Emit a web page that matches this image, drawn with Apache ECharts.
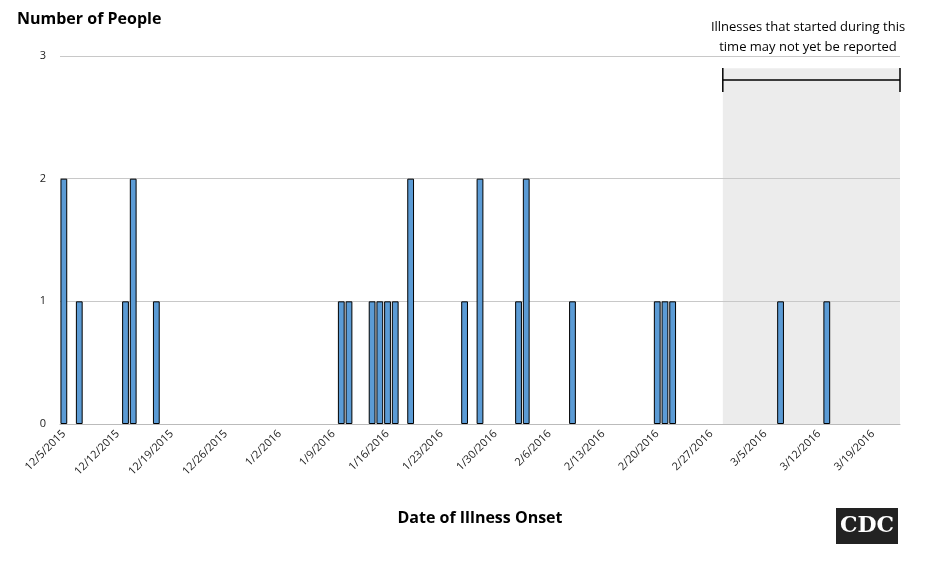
<!DOCTYPE html>
<html><head><meta charset="utf-8">
<script src="https://cdn.jsdelivr.net/npm/echarts@6/dist/echarts.min.js"></script>
<style>html,body{margin:0;padding:0;background:#fff}#c{width:930px;height:562px}</style>
</head><body><div id="c"></div>
<script>
// Days from 12/5/2015 through 3/22/2016
const startDate = new Date(2015, 11, 5);
const dayCount = 109;
const categories = [];
for (let i = 0; i < dayCount; i++) {
  const d = new Date(startDate.getTime() + i * 86400000);
  categories.push((d.getMonth() + 1) + '/' + d.getDate() + '/' + d.getFullYear());
}
const onsetDates = ['12/5/2015','12/7/2015','12/13/2015','12/14/2015','12/17/2015',
  '1/10/2016','1/11/2016','1/14/2016','1/15/2016','1/16/2016','1/17/2016','1/19/2016',
  '1/26/2016','1/28/2016','2/2/2016','2/3/2016','2/9/2016','2/20/2016','2/21/2016','2/22/2016',
  '3/7/2016','3/13/2016'];
const counts = [2,1,1,2,1, 1,1,1,1,1,1,2, 1,2,1,2,1,1,1,1, 1,1];
const yTicks = [0,1,2,3];
const values = categories.map(c => { const k = onsetDates.indexOf(c); return k >= 0 ? counts[k] : '-'; });

const chart = echarts.init(document.getElementById('c'));
chart.setOption({
  animation: false,
  grid: {left: 60, right: 30, top: 56, bottom: 138},
  title: {text: 'Number of People', left: 12, top: 6,
    textStyle: {fontFamily: 'Open Sans', fontSize: 16, fontWeight: 'bold', color: '#000'}},
  xAxis: {
    type: 'category', data: categories,
    name: 'Date of Illness Onset', nameLocation: 'middle', nameGap: 86,
    nameTextStyle: {fontFamily: 'Open Sans', fontSize: 16, fontWeight: 'bold', color: '#000'},
    axisLine: {lineStyle: {color: '#bbb'}}, axisTick: {show: false},
    axisLabel: {interval: i => i % 7 === 0, rotate: 45, fontFamily: 'Open Sans', fontSize: 11, color: '#222', margin: 8}
  },
  yAxis: {
    type: 'value', min: 0, max: 3, interval: 1,
    axisLabel: {fontFamily: 'Open Sans', fontSize: 11, color: '#222', margin: 14},
    splitLine: {lineStyle: {color: '#c8c8c8'}}
  },
  series: [{
    type: 'bar', data: values, barCategoryGap: '12%',
    itemStyle: {color: '#5b9bd5', borderColor: '#000', borderWidth: 1}
  }]
});
const x0 = chart.convertToPixel({xAxisIndex: 0}, '2/29/2016') - 3.8;
const x1 = 900, yb = 80;
const yTop = chart.convertToPixel({yAxisIndex: 0}, 2.9);
const yBot = chart.convertToPixel({yAxisIndex: 0}, 0);
chart.setOption({graphic: [
  {type: 'rect', z: -1, shape: {x: x0, y: yTop, width: x1 - x0, height: yBot - yTop}, style: {fill: '#ececec'}},
  {type: 'line', shape: {x1: x0, y1: yb, x2: x1, y2: yb}, style: {stroke: '#000', lineWidth: 1.5}},
  {type: 'line', shape: {x1: x0, y1: yb - 12, x2: x0, y2: yb + 12}, style: {stroke: '#000', lineWidth: 1.5}},
  {type: 'line', shape: {x1: x1, y1: yb - 12, x2: x1, y2: yb + 12}, style: {stroke: '#000', lineWidth: 1.5}},
  {type: 'text', x: 808, y: 17, style: {text: 'Illnesses that started during this\ntime may not yet be reported',
    align: 'center', fontFamily: 'Open Sans', fontSize: 13, lineHeight: 20, fill: '#000'}},
  {type: 'rect', shape: {x: 836, y: 508, width: 62, height: 36}, style: {fill: '#222'}},
  {type: 'text', x: 867, y: 526, style: {text: 'CDC', align: 'center', verticalAlign: 'middle',
    fontFamily: 'DejaVu Serif', fontWeight: 'bold', fontSize: 22, fill: '#fff'}}
]});
</script></body></html>
